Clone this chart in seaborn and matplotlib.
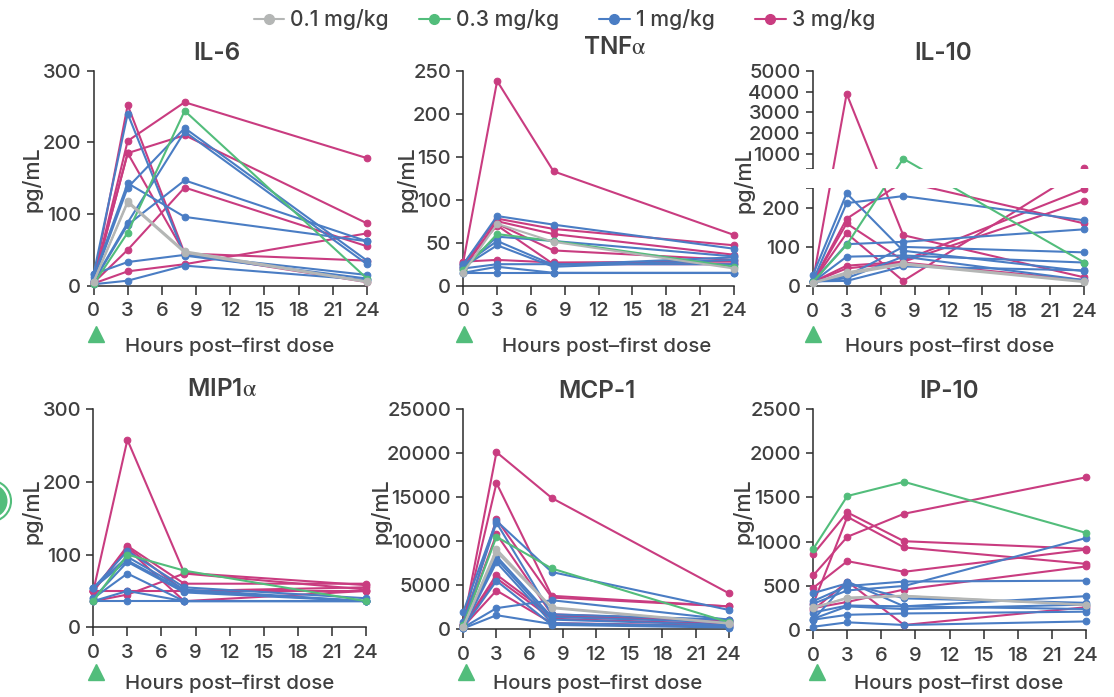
import matplotlib
matplotlib.use('Agg')
import matplotlib.pyplot as plt
from matplotlib.lines import Line2D
from matplotlib.patches import Circle
import numpy as np
import pandas as pd
import seaborn as sns

HOURS = [0, 3, 8, 24]
DOSES = ['0.1 mg/kg', '0.3 mg/kg', '1 mg/kg', '3 mg/kg']
COLORS = ['#b4b6b5', '#52bd7b', '#4a7dc4', '#c93c80']
TEXT = '#3f3f3f'

il6 = {
    '3 mg/kg': [[5, 202, 256, 178], [5, 185, 210, 87], [5, 252, 45, 35], [5, 185, 45, 5],
                [4, 50, 137, 55], [3, 20, 30, 73]],
    '1 mg/kg': [[16, 240, 42, 10], [12, 143, 96, 62], [8, 137, 220, 35], [6, 88, 215, 30],
                [5, 85, 147, 62], [16, 33, 43, 15], [2, 7, 28, 8]],
    '0.3 mg/kg': [[2, 74, 244, 10]],
    '0.1 mg/kg': [[5, 118, 48, 6], [5, 116, 46, 5]],
}
tnf = {
    '3 mg/kg': [[28, 238, 133, 59], [25, 78, 66, 47], [20, 75, 60, 36], [22, 72, 41, 30],
                [28, 30, 27, 28], [25, 70, 25, 25]],
    '1 mg/kg': [[25, 81, 71, 43], [22, 57, 52, 34], [24, 52, 24, 33], [22, 47, 22, 30],
                [15, 22, 15, 15], [15, 15, 15, 15], [20, 25, 25, 25]],
    '0.3 mg/kg': [[18, 60, 52, 22]],
    '0.1 mg/kg': [[15, 72, 51, 20]],
}
il10 = {
    '3 mg/kg': [[10, 3900, 130, 22], [10, 172, 251.75, 160], [10, 160, 65, 248], [10, 135, 13, 300],
                [10, 52, 62, 217], [10, 45, 60, 15]],
    '1 mg/kg': [[27, 237, 90, 38], [12, 212, 230, 168], [10, 107, 113, 145], [10, 75, 78, 60],
                [12, 25, 100, 86], [12, 13, 50, 40], [10, 20, 75, 15]],
    '0.3 mg/kg': [[10, 105, 766, 60]],
    '0.1 mg/kg': [[8, 35, 58, 12], [8, 30, 55, 10]],
}
mip1a = {
    '3 mg/kg': [[50, 258, 75, 58], [50, 112, 60, 60], [50, 110, 50, 55], [50, 108, 36, 50],
                [36, 45, 74, 52], [50, 50, 50, 50]],
    '1 mg/kg': [[54, 105, 55, 40], [54, 97, 52, 36], [54, 92, 50, 36], [40, 90, 48, 36],
                [40, 74, 36, 36], [36, 50, 36, 36], [36, 36, 36, 36]],
    '0.3 mg/kg': [[36, 100, 78, 36]],
    '0.1 mg/kg': [],
}
mcp1 = {
    '3 mg/kg': [[600, 20100, 14900, 4100], [500, 16600, 3800, 2600], [500, 12500, 3600, 2600],
                [500, 10800, 1700, 1000], [400, 6200, 1500, 900], [300, 5800, 1200, 600],
                [300, 4400, 700, 400]],
    '1 mg/kg': [[2000, 12300, 6500, 2200], [800, 12100, 1700, 1100], [500, 8300, 1400, 800],
                [300, 8000, 1100, 500], [200, 7600, 700, 300], [200, 5500, 500, 200],
                [200, 2400, 3300, 1100], [100, 1600, 600, 300]],
    '0.3 mg/kg': [[500, 10500, 6900, 800]],
    '0.1 mg/kg': [[300, 9100, 2500, 700], [300, 8800, 2400, 650]],
}
ip10 = {
    '3 mg/kg': [[620, 1055, 1315, 1725], [860, 1330, 1005, 920], [300, 1280, 935, 750],
                [480, 780, 660, 910], [250, 320, 460, 720], [230, 550, 60, 260]],
    '1 mg/kg': [[420, 530, 360, 310], [330, 500, 550, 560], [300, 450, 500, 1040], [200, 280, 270, 385],
                [130, 270, 240, 290], [120, 175, 190, 210], [40, 90, 60, 100], [120, 550, 270, 240]],
    '0.3 mg/kg': [[920, 1515, 1675, 1100]],
    '0.1 mg/kg': [[250, 370, 390, 290], [260, 360, 385, 285]],
}

sns.set_style('white')
plt.rcParams['font.family'] = ['Inter', 'DejaVu Sans']
plt.rcParams['font.weight'] = 'medium'
plt.rcParams['mathtext.fontset'] = 'stix'

W, H = 1114, 697
fig = plt.figure(figsize=(W / 100, H / 100), dpi=100)


def make_axes(x0, x24, ytop, y0):
    return fig.add_axes([x0 / W, 1 - y0 / H, (x24 - x0) / W, (y0 - ytop) / H])


def tidy(records):
    rows = []
    for dose in ['3 mg/kg', '1 mg/kg', '0.3 mg/kg', '0.1 mg/kg']:
        for i, vals in enumerate(records[dose]):
            for h, v in zip(HOURS, vals):
                rows.append({'hour': h, 'value': v, 'dose': dose, 'subject': dose + str(i)})
    return pd.DataFrame(rows)


def put_text(x, y, s, **kw):
    fig.text(x / W, 1 - y / H, s, color=TEXT, ha='center', va='center', **kw)


def draw_panel(ax, records, title, ymax, yticks, title_xy, label_xy, xlabel_xy, tri_xy):
    df = tidy(records)
    for subject, sub in df.groupby('subject', sort=False):
        c = COLORS[DOSES.index(sub['dose'].iloc[0])]
        sns.lineplot(data=sub, x='hour', y='value', ax=ax, color=c, lw=1.5, marker='o', ms=4.8,
                     mec=c, errorbar=None, estimator=None, clip_on=False, zorder=3)
    ax.set_xlim(0, 24)
    ax.set_ylim(0, ymax)
    ax.set_xticks(range(0, 25, 3))
    ax.set_yticks(yticks)
    ax.set_xlabel('')
    ax.set_ylabel('')
    sns.despine(ax=ax)
    for s in ['left', 'bottom']:
        ax.spines[s].set_linewidth(1.1)
        ax.spines[s].set_color('#2b2b2b')
    ax.tick_params(axis='x', length=6.5, width=1.1, color='#2b2b2b', labelsize=14.5,
                   labelcolor=TEXT, pad=5.5, bottom=True)
    ax.tick_params(axis='y', length=5.3, width=1.1, color='#2b2b2b', labelsize=14.5,
                   labelcolor=TEXT, pad=3.5, left=True)
    put_text(title_xy[0], title_xy[1], title, fontsize=17.5, fontweight='semibold')
    put_text(label_xy[0], label_xy[1], 'pg/mL', fontsize=15.5, rotation=90)
    put_text(xlabel_xy[0], xlabel_xy[1], 'Hours post\u2013first dose', fontsize=14.7)
    # dose marker under the 0 tick
    fig.add_artist(Line2D([tri_xy[0] / W], [1 - tri_xy[1] / H], marker='^', ms=11, mfc=COLORS[1],
                          mec=COLORS[1], ls='none', transform=fig.transFigure))


ax1 = make_axes(93.5, 367, 70.7, 285.7)
draw_panel(ax1, il6, 'IL-6', 300, [0, 100, 200, 300], (217, 53), (32, 179), (230, 347), (95.6, 334))

ax2 = make_axes(463.3, 734, 70.7, 285.7)
draw_panel(ax2, tnf, 'TNF$\\mathrm{\\alpha}$', 250, [0, 50, 100, 150, 200, 250], (615, 48), (407, 179),
           (607, 347), (464.3, 334))

# IL-10 has a broken axis: 0-250 below the gap, 255-5000 above it
LOW, GAP_TOP = 250.0, 255.0
GAP = 48.6
RATIO = 0.05296


def brk(v):
    v = np.asarray(v, dtype=float)
    return np.where(v <= LOW, v,
                    np.where(v <= GAP_TOP, LOW + (v - LOW) / (GAP_TOP - LOW) * GAP,
                             LOW + GAP + (v - GAP_TOP) * RATIO))


def unbrk(p):
    p = np.asarray(p, dtype=float)
    return np.where(p <= LOW, p,
                    np.where(p <= LOW + GAP, LOW + (p - LOW) / GAP * (GAP_TOP - LOW),
                             GAP_TOP + (p - LOW - GAP) / RATIO))


ax3 = make_axes(812.7, 1084.3, 71, 286)
ax3.set_yscale('function', functions=(brk, unbrk))
il10_ticks = [0, 100, 200, LOW, GAP_TOP, 1000, 2000, 3000, 4000, 5000]
draw_panel(ax3, il10, 'IL-10', 5000, il10_ticks, (943, 54), (744, 180), (950, 347), (813, 334))
ax3.set_yticklabels(['0', '100', '200', '', '', '1000', '2000', '3000', '4000', '5000'])
ax3.axhspan(LOW + 0.02, GAP_TOP - 0.02, xmin=-0.03, xmax=1.03, color='white', zorder=6, clip_on=False, lw=0)

ax4 = make_axes(93.3, 366, 409.3, 627.3)
draw_panel(ax4, mip1a, 'MIP1$\\mathrm{\\alpha}$', 300, [0, 100, 200, 300], (222, 389), (32, 511),
           (230, 684), (96, 672))

ax5 = make_axes(463.3, 728.7, 409, 629.3)
draw_panel(ax5, mcp1, 'MCP-1', 25000, [0, 5000, 10000, 15000, 20000, 25000], (597, 391), (381, 511),
           (598, 684), (466, 672))

ax6 = make_axes(813.3, 1085.7, 408.7, 630.3)
draw_panel(ax6, ip10, 'IP-10', 2500, [0, 500, 1000, 1500, 2000, 2500], (949, 391), (743, 511),
           (959, 684), (817, 672))

# legend entries sit at uneven spacing in the original, so each gets its own
legend_x = [253.5, 419, 599, 755]
for dose, c, lx in zip(DOSES, COLORS, legend_x):
    h = Line2D([], [], color=c, lw=1.5, marker='o', ms=7)
    fig.legend([h], [dose], loc='center left', bbox_to_anchor=(lx / W, 1 - 20 / H), frameon=False,
               fontsize=15.2, labelcolor=TEXT, handlelength=1.45, handletextpad=0.3,
               borderpad=0, borderaxespad=0)

# part of a badge cut off by the left edge of the page
fig.add_artist(Circle((-9.5, H - 501), 20.5, transform=None, fc='none', ec=COLORS[1], lw=1.5))
fig.add_artist(Circle((-9.5, H - 501), 17, transform=None, fc=COLORS[1], ec='none'))

plt.savefig('out.png', dpi=100)
